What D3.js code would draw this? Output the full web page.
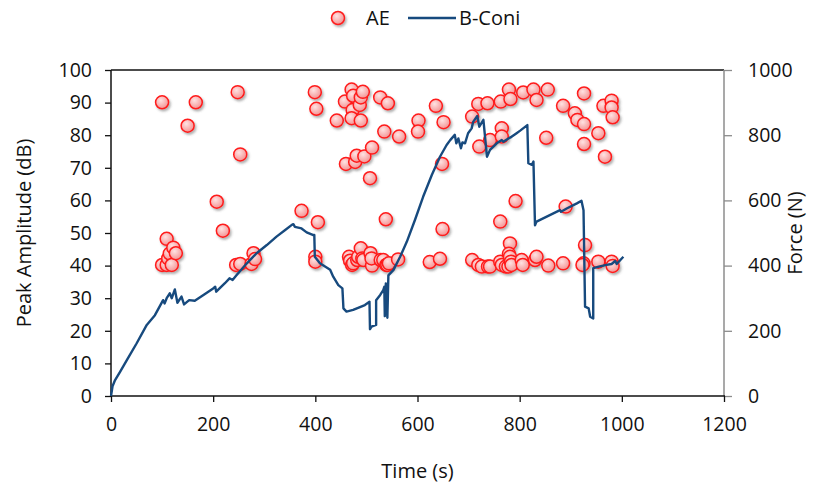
<!DOCTYPE html>
<meta charset="utf-8">
<style>
body {
  margin: 0;
  background: #fff;
  font-family: 'Open Sans', sans-serif;
}
.axis text {
  font-family: 'Open Sans', sans-serif;
  font-size: 19.5px;
  fill: #111;
}
.axis .domain {
  display: none;
}
.title {
  font-size: 20px;
  fill: #111;
}
</style>
<body>
<div id="chart"></div>
<script src="https://d3js.org/d3.v7.min.js"></script>
<script>
// AE hits: time (s) and peak amplitude (dB)
var aeTime = [100, 166, 150, 248, 253, 207, 219, 109, 100, 109, 112, 115, 119, 122, 127,
  245, 253, 275, 279, 282, 373, 399, 402, 405, 400, 400,
  442, 458, 460, 471, 474, 473, 471, 487, 489, 493, 489, 478, 481, 496, 511, 507,
  527, 542, 535, 564, 538, 602, 601, 636, 651, 648, 649,
  466, 468, 472, 474, 482, 484, 489, 492, 494, 508, 511, 510, 528, 533, 539, 541, 544, 562, 624, 644,
  707, 719, 737, 763, 779, 782, 807, 827, 833, 855, 885, 721, 742, 765, 765, 852,
  792, 762, 890, 781, 928,
  707, 719, 726, 738, 742, 762, 765, 773, 778, 779, 781, 783, 784, 804, 806, 830, 833, 856, 885,
  925, 923, 954, 980, 982,
  908, 913, 926, 926, 926, 964, 980, 980, 982, 954, 967];
var aeAmp = [90.1, 90.1, 82.9, 93.2, 74.1, 59.6, 50.7, 48.2, 40.2, 40.2, 42.2, 43.7, 40.2, 45.5, 43.8,
  40.2, 40.5, 40.5, 43.8, 42, 56.8, 93.2, 88.1, 53.3, 42.7, 41.2,
  84.5, 90.3, 71.2, 94, 92.1, 87.7, 85.2, 89.3, 91.6, 93.3, 84.5, 71.8, 73.7, 73.5, 76.2, 66.8,
  91.6, 89.8, 81.1, 79.6, 54.2, 84.5, 81.1, 89, 84, 71.2, 51.2,
  42.7, 41.5, 40.2, 40.7, 41.7, 42.7, 45.3, 42.2, 41.7, 43.8, 40, 42.2, 41.7, 41.7, 40.2, 40.2, 40.7, 41.9, 41.1, 42.1,
  85.7, 89.6, 89.8, 90.3, 94, 91.1, 93.1, 94, 90.8, 94, 89, 76.5, 78.5, 82.1, 79.6, 79.2,
  59.8, 53.5, 58.1, 46.8, 46.3,
  41.7, 40.2, 39.7, 39.7, 39.7, 41.2, 40.2, 39.7, 39.7, 43.6, 42.7, 41.2, 40.2, 41.7, 40.2, 41.7, 42.7, 40, 40.7,
  40.7, 40.2, 41.2, 41.2, 39.9,
  86.7, 84.7, 83.4, 92.8, 77.3, 89, 90.6, 88.5, 85.5, 80.6, 73.4];

// B-Coni force curve: time (s) and force (N)
var forceTime = [0, 3, 8, 18, 31, 50, 70, 86, 102, 105, 109, 115, 119, 125, 130, 138, 143, 153, 164, 181,
  200, 204, 206, 223, 232, 238, 246, 266, 285, 305, 324, 341, 354, 357, 360, 373, 383, 395, 398, 399,
  409, 429, 435, 445, 453, 455, 461, 474, 497, 506, 507, 510, 519, 519, 527, 533, 535, 536, 538, 541,
  543, 553, 566, 579, 595, 611, 628, 644, 657, 664, 673, 676, 680, 685, 688, 693, 699, 706, 709, 717,
  721, 729, 736, 742, 755, 765, 768, 778, 784, 794, 801, 815, 817, 824, 827, 830, 833, 859, 879, 881,
  892, 912, 921, 925, 928, 935, 938, 944, 944, 955, 970, 980, 987, 990, 1003];
var forceVal = [0, 30, 49, 75, 110, 161, 218, 248, 294, 284, 300, 315, 300, 327, 286, 305, 281, 294, 292, 310,
  330, 335, 320, 346, 361, 356, 371, 407, 438, 463, 489, 509, 525, 527, 519, 514, 502, 494, 494, 427,
  407, 387, 366, 340, 330, 269, 259, 264, 279, 289, 205, 213, 218, 294, 310, 325, 335, 245, 345, 240,
  370, 387, 427, 473, 540, 611, 678, 734, 770, 785, 801, 775, 790, 760, 778, 775, 806, 821, 841, 859,
  826, 847, 734, 755, 775, 785, 780, 790, 795, 806, 814, 831, 714, 709, 719, 524, 535, 555, 570, 565,
  575, 591, 599, 570, 274, 269, 243, 238, 392, 397, 402, 405, 414, 405, 427];

var xTicks = [0, 200, 400, 600, 800, 1000, 1200];
var ampTicks = [0, 10, 20, 30, 40, 50, 60, 70, 80, 90, 100];
var forceTicks = [0, 200, 400, 600, 800, 1000];

var width = 825,
    height = 491;
var margin = {top: 70, right: 101, bottom: 95, left: 111};

var svg = d3.select("#chart").append("svg")
    .attr("width", width)
    .attr("height", height);

var defs = svg.append("defs");
var grad = defs.append("radialGradient")
    .attr("id", "dotFill")
    .attr("cx", "40%").attr("cy", "35%").attr("r", "65%");
grad.append("stop").attr("offset", "0%").attr("stop-color", "#ffe2e2");
grad.append("stop").attr("offset", "100%").attr("stop-color", "#f49494");

var shadow = defs.append("filter").attr("id", "shadow")
    .attr("x", "-50%").attr("y", "-50%").attr("width", "200%").attr("height", "200%");
shadow.append("feDropShadow")
    .attr("dx", 1.5).attr("dy", 2).attr("stdDeviation", 1.2)
    .attr("flood-color", "#555").attr("flood-opacity", 0.45);

var x = d3.scaleLinear().domain([0, 1200]).range([margin.left, width - margin.right]);
var yAmp = d3.scaleLinear().domain([0, 100]).range([height - margin.bottom, margin.top]);
var yForce = d3.scaleLinear().domain([0, 1000]).range([height - margin.bottom, margin.top]);

var x0 = margin.left, x1 = width - margin.right;
var y0 = height - margin.bottom, y1 = margin.top;
var fmt = d3.format("d");

// frame: top border and right axis line
svg.append("line")
    .attr("x1", x0).attr("x2", x1).attr("y1", y1).attr("y2", y1)
    .attr("stroke", "#111").attr("stroke-width", 1.5);
svg.append("line")
    .attr("x1", x1).attr("x2", x1).attr("y1", y1).attr("y2", y0)
    .attr("stroke", "#8c8c8c").attr("stroke-width", 1.5);
svg.append("line")
    .attr("x1", x0).attr("x2", x0).attr("y1", y1).attr("y2", y0)
    .attr("stroke", "#111").attr("stroke-width", 1.5);

// axes
var gLeft = svg.append("g").attr("class", "axis")
    .attr("transform", "translate(" + x0 + ",0)")
    .call(d3.axisLeft(yAmp).tickValues(ampTicks).tickFormat(fmt)
      .tickSize(6).tickSizeOuter(0).tickPadding(13));
gLeft.selectAll(".tick line").attr("stroke", "#111").attr("stroke-width", 1.3);

var gRight = svg.append("g").attr("class", "axis")
    .attr("transform", "translate(" + x1 + ",0)")
    .call(d3.axisRight(yForce).tickValues(forceTicks).tickFormat(fmt)
      .tickSize(8).tickSizeOuter(0).tickPadding(16));
gRight.selectAll(".tick line").attr("stroke", "#8c8c8c").attr("stroke-width", 1.3);

var gBottom = svg.append("g").attr("class", "axis")
    .attr("transform", "translate(0," + y0 + ")")
    .call(d3.axisBottom(x).tickValues(xTicks).tickFormat(fmt)
      .tickSize(6).tickSizeOuter(0).tickPadding(15));
gBottom.selectAll(".tick line").attr("stroke", "#111").attr("stroke-width", 1.3);

svg.append("line")
    .attr("x1", x0).attr("x2", x1 + 1).attr("y1", y0).attr("y2", y0)
    .attr("stroke", "#111").attr("stroke-width", 1.5);

// AE scatter
var aeData = aeTime.map(function(t, i) { return {t: t, a: aeAmp[i]}; });
svg.append("g")
    .attr("filter", "url(#shadow)")
  .selectAll("circle")
    .data(aeData)
  .enter().append("circle")
    .attr("cx", function(d) { return x(d.t); })
    .attr("cy", function(d) { return yAmp(d.a); })
    .attr("r", 6.5)
    .attr("fill", "url(#dotFill)")
    .attr("stroke", "#ff1a1a")
    .attr("stroke-width", 1.5);

// force line
var forceData = forceTime.map(function(t, i) { return {t: t, f: forceVal[i]}; });
var line = d3.line()
    .x(function(d) { return x(d.t); })
    .y(function(d) { return yForce(d.f); });
svg.append("path")
    .datum(forceData)
    .attr("d", line)
    .attr("fill", "none")
    .attr("stroke", "#174a7e")
    .attr("stroke-width", 2.4)
    .attr("stroke-linejoin", "round");

// axis titles
svg.append("text")
    .attr("class", "title")
    .attr("x", (x0 + x1) / 2)
    .attr("y", 478)
    .attr("text-anchor", "middle")
    .text("Time (s)");

svg.append("text")
    .attr("class", "title")
    .attr("transform", "translate(31," + ((y0 + y1) / 2) + ") rotate(-90)")
    .attr("text-anchor", "middle")
    .text("Peak Amplitude (dB)");

svg.append("text")
    .attr("class", "title")
    .attr("transform", "translate(802," + ((y0 + y1) / 2) + ") rotate(-90)")
    .attr("text-anchor", "middle")
    .text("Force (N)");

// legend
var legend = svg.append("g");
legend.append("circle")
    .attr("cx", 338).attr("cy", 18).attr("r", 6.5)
    .attr("fill", "url(#dotFill)")
    .attr("stroke", "#ff1a1a").attr("stroke-width", 1.5)
    .attr("filter", "url(#shadow)");
legend.append("text")
    .attr("class", "title")
    .attr("x", 366).attr("y", 25)
    .text("AE");
legend.append("line")
    .attr("x1", 408).attr("x2", 456).attr("y1", 18).attr("y2", 18)
    .attr("stroke", "#174a7e").attr("stroke-width", 2.4);
legend.append("text")
    .attr("class", "title")
    .attr("x", 459).attr("y", 25)
    .text("B-Coni");
</script>
</body>
